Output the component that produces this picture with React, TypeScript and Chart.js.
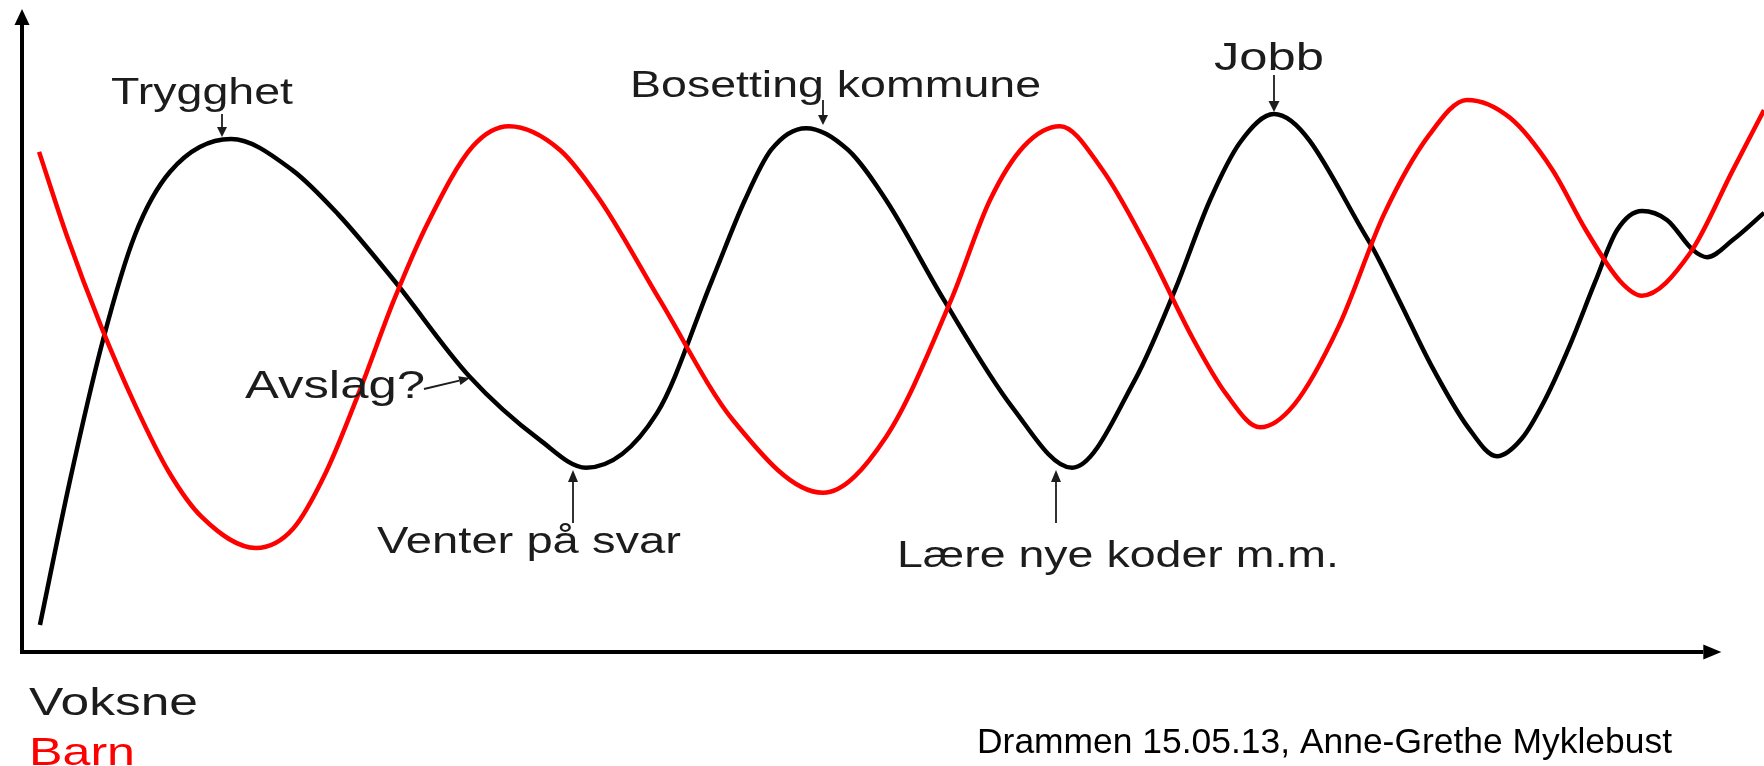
import React, { useEffect, useRef } from "react";
import { Chart, registerables } from "chart.js";

Chart.register(...registerables);

const W = 1764;
const H = 766;

// Arbitrary units: time 0–100 along the horizontal axis, level 0–100 along the vertical axis
const voksneTime = [1.03, 2.76, 4.65, 6.49, 8.5, 12.0, 15.5, 18.14, 21.35, 25.66, 29.74, 32.38, 36.45, 39.61, 41.5, 43.0, 45.01, 47.42, 49.6, 52.93, 56.83, 60.28, 63.89, 66.19, 68.2, 69.93, 71.87, 77.27, 79.05, 80.83, 83.01, 84.67, 86.11, 87.43, 88.86, 90.3, 91.56, 93.0, 94.43, 95.93, 96.73, 98.22, 100];
const voksneLevel = [4.2, 26.8, 48.6, 65.0, 74.8, 79.9, 75.1, 68.2, 57.9, 43.0, 33.0, 28.7, 37.2, 57.9, 70.4, 78.2, 81.6, 78.2, 70.4, 54.8, 38.2, 28.7, 42.4, 56.4, 70.4, 79.4, 83.8, 64.2, 54.8, 45.0, 35.0, 30.5, 33.3, 39.3, 47.8, 57.6, 65.7, 68.7, 67.3, 62.6, 61.5, 64.2, 68.4];

const barnTime = [0.98, 2.58, 4.53, 6.49, 8.44, 10.33, 13.43, 15.56, 17.45, 19.4, 21.35, 23.31, 25.89, 27.96, 30.88, 33.18, 36.62, 40.82, 45.98, 49.6, 53.33, 55.57, 57.52, 59.59, 62.0, 64.58, 67.16, 69.12, 71.07, 73.02, 75.6, 78.19, 80.77, 82.95, 85.42, 87.83, 89.78, 91.73, 92.99, 95.75, 98.22, 100];
const barnLevel = [77.9, 64.8, 50.8, 38.5, 28.0, 21.0, 16.2, 19.2, 28.0, 40.8, 54.8, 66.9, 78.8, 81.9, 78.2, 70.4, 54.8, 36.1, 24.8, 33.5, 54.8, 70.4, 78.8, 81.9, 75.2, 63.1, 49.1, 40.2, 35.0, 38.5, 50.8, 68.2, 80.5, 86.0, 83.2, 75.2, 65.7, 57.8, 55.5, 62.1, 75.1, 84.4];

const seriesNames = ["Voksne", "Barn"];
const seriesColors = ["#000000", "#ff0000"];

// Annotation texts
const labelTexts = ["Trygghet", "Bosetting kommune", "Jobb", "Avslag?", "Venter på svar", "Lære nye koder m.m."];
const footerText = "Drammen 15.05.13, Anne-Grethe Myklebust";

const SANS = '"Liberation Sans", Arial, Helvetica, sans-serif';
const NARROW = '"Liberation Sans Narrow", "Liberation Sans", Arial, sans-serif';

function stretchedText(
  ctx: CanvasRenderingContext2D,
  text: string,
  x: number,
  baseline: number,
  size: number,
  width: number,
  color: string,
  family: string
) {
  ctx.save();
  ctx.font = `${size}px ${family}`;
  ctx.fillStyle = color;
  ctx.textBaseline = "alphabetic";
  ctx.textAlign = "left";
  const w = ctx.measureText(text).width;
  const sx = w > 0 ? width / w : 1;
  ctx.translate(x, baseline);
  ctx.scale(sx, 1);
  ctx.fillText(text, 0, 0);
  ctx.restore();
}

function arrow(
  ctx: CanvasRenderingContext2D,
  x1: number,
  y1: number,
  x2: number,
  y2: number,
  lw: number,
  headLen: number,
  headW: number,
  color: string
) {
  const ang = Math.atan2(y2 - y1, x2 - x1);
  const bx = x2 - headLen * Math.cos(ang);
  const by = y2 - headLen * Math.sin(ang);
  ctx.save();
  ctx.strokeStyle = color;
  ctx.fillStyle = color;
  ctx.lineWidth = lw;
  ctx.lineCap = "butt";
  ctx.beginPath();
  ctx.moveTo(x1, y1);
  ctx.lineTo(bx, by);
  ctx.stroke();
  const px = (-Math.sin(ang) * headW) / 2;
  const py = (Math.cos(ang) * headW) / 2;
  ctx.beginPath();
  ctx.moveTo(x2, y2);
  ctx.lineTo(bx + px, by + py);
  ctx.lineTo(bx - px, by - py);
  ctx.closePath();
  ctx.fill();
  ctx.restore();
}

const axesPlugin = {
  id: "axesPlugin",
  beforeDatasetsDraw(chart: any) {
    const ctx: CanvasRenderingContext2D = chart.ctx;
    const xs = chart.scales.x;
    const ys = chart.scales.y;
    const ox = xs.getPixelForValue(0);
    const oy = ys.getPixelForValue(0);
    ctx.save();
    ctx.fillStyle = "#ffffff";
    ctx.fillRect(0, 0, W, H);
    ctx.restore();
    // y axis
    arrow(ctx, ox, oy + 2, ox, ys.getPixelForValue(100) - 1, 4, 16, 15, "#000");
    // x axis
    arrow(ctx, ox - 2, oy, xs.getPixelForValue(97.55), oy, 4, 18, 15, "#000");
  },
};

const labelPlugin = {
  id: "labelPlugin",
  afterDatasetsDraw(chart: any) {
    const ctx: CanvasRenderingContext2D = chart.ctx;
    const txt = "#1c1c1c";
    stretchedText(ctx, labelTexts[0], 111, 104, 37, 182, txt, SANS);
    stretchedText(ctx, labelTexts[1], 630, 97, 37, 411, txt, SANS);
    stretchedText(ctx, labelTexts[2], 1214, 70, 39, 110, txt, SANS);
    stretchedText(ctx, labelTexts[3], 245, 398, 38, 180, txt, SANS);
    stretchedText(ctx, labelTexts[4], 377, 553, 36, 304, txt, SANS);
    stretchedText(ctx, labelTexts[5], 897, 567, 37, 442, txt, SANS);

    arrow(ctx, 222, 114, 222, 137, 1.8, 10, 10, txt);
    arrow(ctx, 823, 100, 823, 125, 1.8, 10, 10, txt);
    arrow(ctx, 1274, 75, 1274, 112, 1.8, 11, 11, txt);
    arrow(ctx, 424, 389, 470, 378, 1.8, 11, 9, txt);
    arrow(ctx, 573, 523, 573, 470, 1.8, 12, 10, txt);
    arrow(ctx, 1056, 523, 1056, 470, 1.8, 12, 10, txt);

    // series key
    stretchedText(ctx, seriesNames[0], 29, 715, 39, 169, "#1c1c1c", SANS);
    stretchedText(ctx, seriesNames[1], 29, 765, 39, 106, seriesColors[1], SANS);

    // footer
    stretchedText(ctx, footerText, 977, 753, 35, 695, "#000000", NARROW);
  },
};

export default function App() {
  const canvasRef = useRef<HTMLCanvasElement | null>(null);

  useEffect(() => {
    const canvas = canvasRef.current;
    if (!canvas) return;
    const chart = new Chart(canvas, {
      type: "line",
      data: {
        datasets: [
          {
            label: seriesNames[1],
            data: barnTime.map((t, i) => ({ x: t, y: barnLevel[i] })),
            borderColor: seriesColors[1],
            borderWidth: 4.5,
            pointRadius: 0,
            fill: false,
            cubicInterpolationMode: "monotone",
          },
          {
            label: seriesNames[0],
            data: voksneTime.map((t, i) => ({ x: t, y: voksneLevel[i] })),
            borderColor: seriesColors[0],
            borderWidth: 4.5,
            pointRadius: 0,
            fill: false,
            cubicInterpolationMode: "monotone",
          },
        ],
      },
      options: {
        responsive: false,
        animation: false,
        events: [],
        devicePixelRatio: 1,
        layout: { padding: { left: 22, top: 10, right: 0, bottom: 114 } },
        plugins: {
          legend: { display: false },
          tooltip: { enabled: false },
          title: { display: false },
        },
        scales: {
          x: { type: "linear", min: 0, max: 100, display: false },
          y: { type: "linear", min: 0, max: 100, display: false },
        },
      },
      plugins: [axesPlugin, labelPlugin],
    });
    return () => chart.destroy();
  }, []);

  return (
    <div style={{ position: "absolute", left: 0, top: 0, width: W, height: H, background: "#fff", overflow: "hidden" }}>
      <canvas ref={canvasRef} width={W} height={H} style={{ display: "block", width: W, height: H }} />
    </div>
  );
}
